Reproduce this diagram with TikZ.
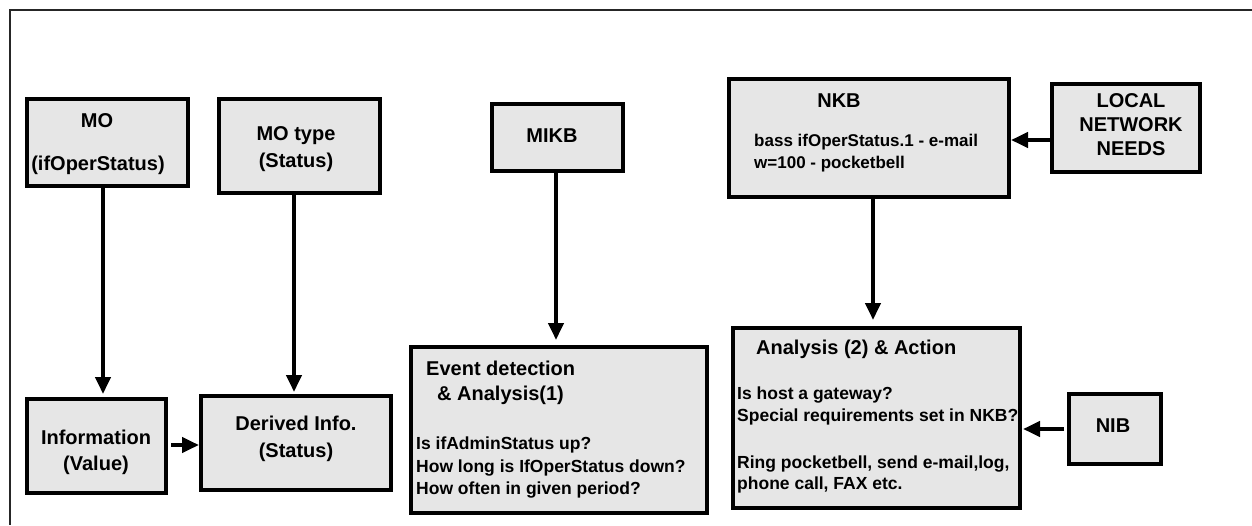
\documentclass[tikz,border=0pt]{standalone}
\usepackage{fontspec}
\setmainfont{Liberation Sans}
\usetikzlibrary{arrows.meta}
\definecolor{boxgray}{RGB}{230,230,230}
\tikzset{
  box/.style={draw=black, fill=boxgray, line width=4pt, inner sep=0pt, rectangle},
  hd/.style={inner sep=0pt, font=\fontsize{20}{24}\selectfont\bfseries},
  sm/.style={inner sep=0pt, font=\fontsize{17.5}{22}\selectfont\bfseries},
  nk/.style={inner sep=0pt, font=\fontsize{17}{21}\selectfont\bfseries},
  arr/.style={line width=4pt, -{Triangle[length=17pt,width=15pt]}},
  frame/.style={line width=1.5pt, draw=black!85}
}
\begin{document}
\begin{tikzpicture}[x=1pt,y=-1pt]
\useasboundingbox (0,0) rectangle (1252,525);
% frame
\coordinate (ftl) at (10,10);
\coordinate (ftr) at (1252,10);
\coordinate (fbl) at (10,525);
\draw[frame] (ftr) -- (ftl) -- (fbl);

% boxes
\node[box, minimum width=161pt, minimum height=87pt] (mo) at (107.5,142.5) {};
\node[box, minimum width=161pt, minimum height=94pt] (motype) at (299.5,146) {};
\node[box, minimum width=139pt, minimum height=94pt] (info) at (96.5,446) {};
\node[box, minimum width=190pt, minimum height=94pt] (derived) at (296,443) {};
\node[box, minimum width=131pt, minimum height=67pt] (mikb) at (557.5,137.5) {};
\node[box, minimum width=296pt, minimum height=166pt] (event) at (559,430) {};
\node[box, minimum width=280pt, minimum height=118pt] (nkb) at (869,138) {};
\node[box, minimum width=148pt, minimum height=88pt] (local) at (1126,128) {};
\node[box, minimum width=287pt, minimum height=180pt] (anal) at (876.5,418) {};
\node[box, minimum width=92pt, minimum height=70pt] (nib) at (1115,429) {};

% texts
\node[hd, anchor=base] (tmo1) at (97,127) {MO};
\node[hd, anchor=base] (tmo2) at (98,170) {(ifOperStatus)};
\node[hd, anchor=base] (tmt1) at (296,140) {MO type};
\node[hd, anchor=base] (tmt2) at (296,167) {(Status)};
\node[hd, anchor=base] (tin1) at (96,444) {Information};
\node[hd, anchor=base] (tin2) at (96,470) {(Value)};
\node[hd, anchor=base] (tde1) at (296,430) {Derived Info.};
\node[hd, anchor=base] (tde2) at (296,457) {(Status)};
\node[hd, anchor=base] (tmikb) at (552,142) {MIKB};
\node[hd, anchor=base west] (tev1) at (426,375) {Event detection};
\node[hd, anchor=base west] (tev2) at (437,400) {\& Analysis(1)};
\node[sm, anchor=base west] (tev3) at (416,449) {Is ifAdminStatus up?};
\node[sm, anchor=base west] (tev4) at (416,472) {How long is IfOperStatus down?};
\node[sm, anchor=base west] (tev5) at (416,494) {How often in given period?};
\node[hd, anchor=base] (tnkb) at (839,107) {NKB};
\node[nk, anchor=base west] (tnk1) at (754,146) {bass ifOperStatus.1 - e-mail};
\node[nk, anchor=base west] (tnk2) at (754,168) {w=100 - pocketbell};
\node[hd, anchor=base] (tlo1) at (1131,107) {LOCAL};
\node[hd, anchor=base] (tlo2) at (1131,131) {NETWORK};
\node[hd, anchor=base] (tlo3) at (1131,155) {NEEDS};
\node[hd, anchor=base west] (tan1) at (756,354) {Analysis (2) \& Action};
\node[sm, anchor=base west] (tan2) at (737,399) {Is host a gateway?};
\node[sm, anchor=base west] (tan3) at (737,421) {Special requirements set in NKB?};
\node[sm, anchor=base west] (tan4) at (737,468) {Ring pocketbell, send e-mail,log,};
\node[sm, anchor=base west] (tan5) at (737,489) {phone call, FAX etc.};
\node[hd, anchor=base] (tnib) at (1113,432) {NIB};

% connectors
\draw[arr, shorten >=3pt] (103,0 |- mo.south) -- (103,0 |- info.north);
\draw[arr, shorten >=2pt] (294,0 |- motype.south) -- (294,0 |- derived.north);
\draw[arr, shorten >=5pt] (556,0 |- mikb.south) -- (556,0 |- event.north);
\draw[arr, shorten >=6pt] (873,0 |- nkb.south) -- (873,0 |- anal.north);
\draw[arr, shorten <=3pt] (info.east |- 0,445) -- (derived.west |- 0,445);
\draw[arr] (local.west |- 0,140) -- (nkb.east |- 0,140);
\draw[arr, shorten <=3pt, shorten >=1pt] (nib.west |- 0,429) -- (anal.east |- 0,429);
\end{tikzpicture}
\end{document}
